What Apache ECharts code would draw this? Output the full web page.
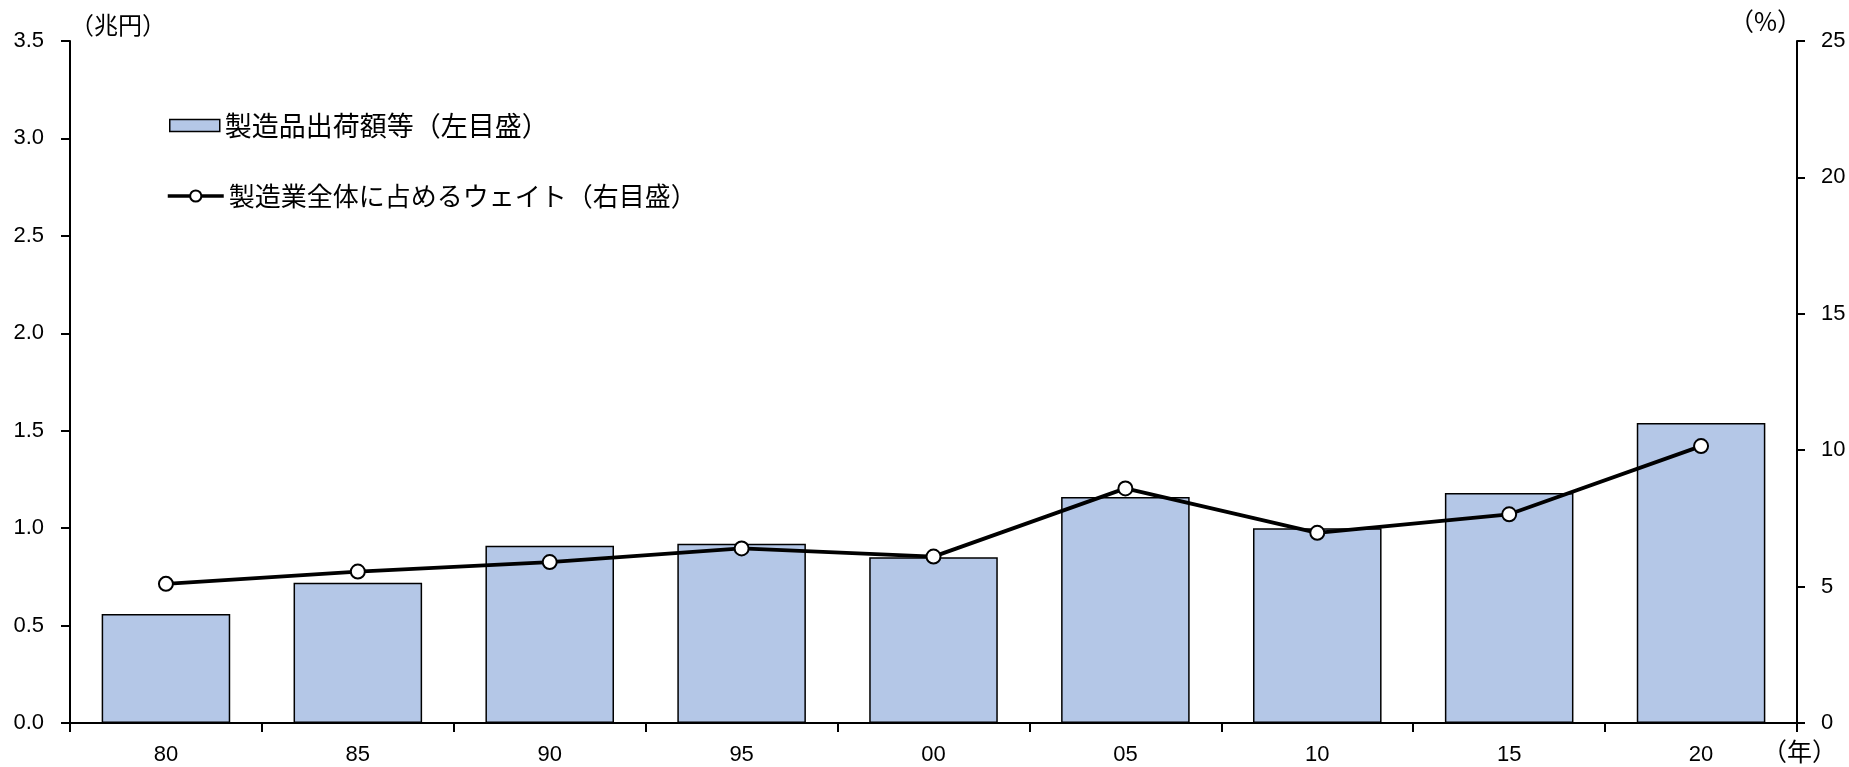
<!DOCTYPE html>
<html>
<head>
<meta charset="utf-8">
<script src="https://cdn.jsdelivr.net/npm/echarts@6/dist/echarts.min.js"></script>
<style>
  html, body { margin: 0; padding: 0; background: #fff; }
  #chart { width: 1849px; height: 767px; }
</style>
</head>
<body>
<div id="chart"></div>
<script>
// Years (two-digit labels)
const years = ['80', '85', '90', '95', '00', '05', '10', '15', '20'];
// Shipment value of manufactured goods (trillion yen, left axis)
const shipments = [0.56, 0.72, 0.91, 0.92, 0.85, 1.16, 1.00, 1.18, 1.54];
// Share of total manufacturing (%, right axis)
const weights = [5.1, 5.55, 5.9, 6.4, 6.1, 8.6, 6.97, 7.65, 10.15];

const barName = '製造品出荷額等（左目盛）';
const lineName = '製造業全体に占めるウェイト（右目盛）';

const numFont = "'Liberation Sans', 'Noto Sans CJK JP', sans-serif";
const jpFont = "'Noto Sans CJK JP', sans-serif";

const chart = echarts.init(document.getElementById('chart'), null, { renderer: 'canvas' });

chart.setOption({
  backgroundColor: '#ffffff',
  animation: false,
  grid: { left: 70, right: 52, top: 41, bottom: 44, containLabel: false },
  legend: [
    {
      left: 164,
      top: 107,
      itemWidth: 50,
      itemHeight: 12,
      itemGap: 0,
      textStyle: { fontFamily: jpFont, fontSize: 27, color: '#000' },
      data: [{ name: barName, icon: 'rect',
        itemStyle: { color: '#B4C7E7', borderColor: '#000', borderWidth: 1.5 } }]
    },
    {
      left: 161,
      top: 178,
      itemWidth: 56,
      itemHeight: 14,
      itemGap: 0,
      textStyle: { fontFamily: jpFont, fontSize: 26, color: '#000' },
      data: [{ name: lineName,
        lineStyle: { color: '#000', width: 3.5 },
        itemStyle: { color: '#fff', borderColor: '#000', borderWidth: 2 } }]
    }
  ],
  xAxis: {
    type: 'category',
    data: years,
    boundaryGap: true,
    axisLine: { lineStyle: { color: '#000', width: 2 } },
    axisTick: { show: true, inside: false, length: 9, lineStyle: { color: '#000', width: 2 } },
    axisLabel: { color: '#000', fontFamily: numFont, fontSize: 22, margin: 21 }
  },
  yAxis: [
    {
      type: 'value',
      min: 0, max: 3.5, interval: 0.5,
      splitLine: { show: false },
      axisLine: { show: true, lineStyle: { color: '#000', width: 2 } },
      axisTick: { show: true, inside: false, length: 9, lineStyle: { color: '#000', width: 2 } },
      axisLabel: { color: '#000', fontFamily: numFont, fontSize: 22, margin: 26,
        formatter: v => v.toFixed(1) }
    },
    {
      type: 'value',
      position: 'right',
      min: 0, max: 25, interval: 5,
      splitLine: { show: false },
      axisLine: { show: true, lineStyle: { color: '#000', width: 2 } },
      axisTick: { show: true, inside: false, length: 8, lineStyle: { color: '#000', width: 2 } },
      axisLabel: { color: '#000', fontFamily: numFont, fontSize: 22, margin: 24 }
    }
  ],
  series: [
    {
      name: barName,
      type: 'bar',
      yAxisIndex: 0,
      data: shipments,
      barCategoryGap: '33%',
      itemStyle: { color: '#B4C7E7', borderColor: '#000', borderWidth: 1.5 }
    },
    {
      name: lineName,
      type: 'line',
      yAxisIndex: 1,
      data: weights,
      symbol: 'circle',
      symbolSize: 14,
      lineStyle: { color: '#000', width: 3.8 },
      itemStyle: { color: '#fff', borderColor: '#000', borderWidth: 2 },
      z: 5
    }
  ],
  graphic: [
    { type: 'text', left: 70, top: 13,
      style: { text: '（兆円）', font: "24px 'Noto Sans CJK JP', sans-serif", fill: '#000' } },
    { type: 'text', left: 1729, top: 9,
      style: { text: '（%）', font: "25px 'Noto Sans CJK JP', sans-serif", fill: '#000' } },
    { type: 'text', left: 1762, top: 739,
      style: { text: '（年）', font: "25px 'Noto Sans CJK JP', sans-serif", fill: '#000' } }
  ]
});
</script>
</body>
</html>
